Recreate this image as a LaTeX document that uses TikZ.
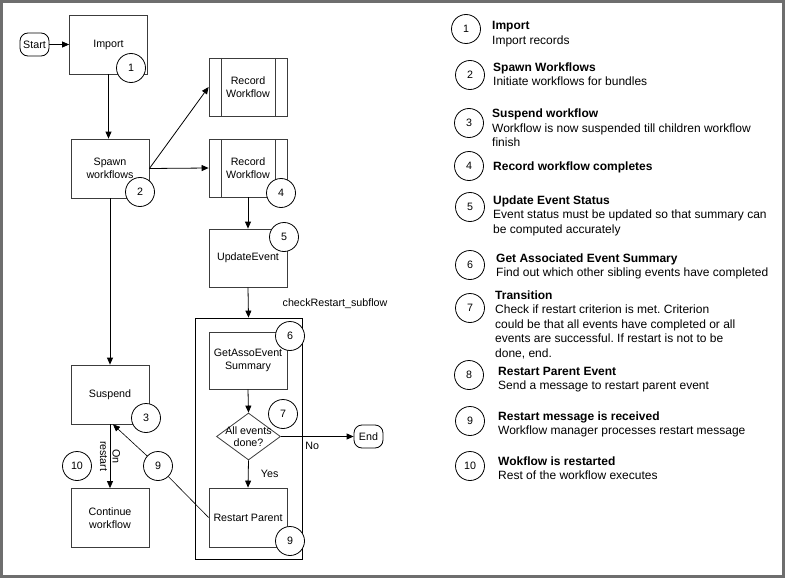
\documentclass[tikz,border=0pt]{standalone}
\usepackage{fontspec}
\setmainfont{Liberation Sans}
\usetikzlibrary{arrows.meta, shapes.geometric}
\usetikzlibrary{positioning}
\usepackage{xcolor}
\definecolor{framegray}{RGB}{110,110,110}
\definecolor{boxgray}{RGB}{60,60,60}
\newcommand{\boxfont}{\fontsize{10.7}{12.5}\selectfont}
\newcommand{\legfont}{\fontsize{12}{14.5}\selectfont\frenchspacing}

\begin{document}
\begin{tikzpicture}[x=1pt, y=-1pt, font=\boxfont,
		flow/.style={-{Triangle[length=7pt, width=6pt]}, line width=0.8pt},
		link/.style={line width=0.6pt},
		stepbox/.style={draw=boxgray, fill=white, line width=0.8pt, minimum width=78pt, minimum height=59pt, align=center, inner sep=1pt},
		subproc/.style={stepbox, path picture={
				\draw[boxgray, line width=0.8pt] ([xshift=12pt]path picture bounding box.north west) -- ([xshift=12pt]path picture bounding box.south west);
				\draw[boxgray, line width=0.8pt] ([xshift=-12pt]path picture bounding box.north east) -- ([xshift=-12pt]path picture bounding box.south east);}},
		terminal/.style={rectangle, rounded corners=8pt, draw, fill=white, line width=0.8pt, minimum width=29pt, minimum height=23pt, inner xsep=1pt, inner ysep=1pt},
		numcirc/.style={circle, draw, fill=white, line width=0.8pt, minimum size=29pt, inner sep=0pt},
		legtext/.style={anchor=base west, align=left, font=\legfont, inner sep=0pt}]
		\useasboundingbox (0,0) rectangle (785,578);
		\draw[framegray, line width=2.7pt] (1.3,1.3) rectangle (783.6,576.6);
		
		% main flow
		\begin{scope}
			\node[terminal] (start) at (34.5,44.5) {Start};
			\node[stepbox] (import) at (108.5,44.5) {Import};
			\node[numcirc] (c1) at (131,68) {1};
			\node[stepbox] (spawn) at (110,168.5) {Spawn\\workflows};
			\node[numcirc] (c2) at (140,192) {2};
			\node[subproc, minimum height=58pt] (rwa) at (248,87) {Record\\Workflow};
			\node[subproc, minimum height=58pt] (rwb) at (248,168) {Record\\Workflow};
			\node[numcirc] (c4) at (281,193) {4};
			\node[stepbox, minimum height=58pt] (update) at (248,258) {UpdateEvent};
			\node[numcirc] (c5) at (284,237) {5};
			\node[stepbox] (suspend) at (110,394.5) {Suspend};
			\node[numcirc] (c3) at (146,418) {3};
			\node[stepbox] (cont) at (110,518) {Continue\\workflow};
			\node[numcirc] (c10) at (77,466) {10};
			\node[numcirc] (c9a) at (158,466) {9};
			\coordinate (susphit) at ([xshift=3pt]suspend.south);
			
			\draw[flow] (start) -- (import);
			\draw[flow] (import.south) -- (import.south |- spawn.north);
			\draw[flow] (spawn.east) -- (rwa.west);
			\draw[flow] (spawn.east) -- (rwb.west);
			\draw[flow] (rwb.south) -- (update.north);
			\draw[flow] (spawn.south) -- (suspend.north);
			\draw[flow] (suspend.south) -- node[rotate=-90, align=center, inner sep=0pt] (onrst) {On\\restart} (cont.north);
			\draw[flow, link] (c9a) -- (susphit);
		\end{scope}
		
		% sub flow
		\begin{scope}
			\node[draw, line width=0.8pt, minimum width=107pt, minimum height=241pt] (sub) at (248.5,438.5) {};
			\node (sublbl) at (335,304) {checkRestart\_subflow};
			\node[stepbox, minimum height=57pt] (getasso) at (248,360.5) {GetAssoEvent\\Summary};
			\node[numcirc] (c6) at (290,336) {6};
			\node[diamond, draw=boxgray, fill=white, line width=0.8pt, minimum width=64pt, minimum height=47pt, inner sep=0pt,
			label={[align=center]center:All events\\done?}] (dec) at (248.5,436.5) {};
			\node[numcirc] (c7) at (283,414) {7};
			\node[terminal] (finish) at (368.5,436.5) {End};
			\node[stepbox] (restart) at (248,517.5) {Restart Parent};
			\node[numcirc] (c9b) at (290,541) {9};
			
			\draw[flow] (update.south) -- (sub.north);
			\draw[flow] (getasso.south) -- (dec.north);
			\draw[flow] (dec.east) -- node[pos=0.43, below=2pt] (nolbl) {No} (finish.west);
			\draw[flow] (dec.south) -- node[pos=0.5, right=9pt] (yeslbl) {Yes} (restart.north);
			\draw[link] (c9a) -- (restart.west);
		\end{scope}
		
		% legend (node base = last line)
		\begin{scope}
			\node[numcirc] (l1) at (466,29) {1};
			\node[legtext] (t1) at (492,44.5) {\textbf{Import}\\Import records};
			\node[numcirc] (l2) at (470,75) {2};
			\node[legtext] (t2) at (493,86) {\textbf{Spawn Workflows}\\Initiate workflows for bundles};
			\node[numcirc] (l3) at (469,123) {3};
			\node[legtext] (t3) at (492,146.5) {\textbf{Suspend workflow}\\Workflow is now suspended till children workflow\\finish};
			\node[numcirc] (l4) at (469,166) {4};
			\node[legtext] (t4) at (493,170) {\textbf{Record workflow completes}};
			\node[numcirc] (l5) at (470,207) {5};
			\node[legtext] (t5) at (493,233) {\textbf{Update Event Status}\\Event status must be updated so that summary can\\be computed accurately};
			\node[numcirc] (l6) at (470,265) {6};
			\node[legtext] (t6) at (496,276.5) {\textbf{Get Associated Event Summary}\\Find out which other sibling events have completed};
			\node[numcirc] (l7) at (470,308) {7};
			\node[legtext] (t7) at (495,357) {\textbf{Transition}\\Check if restart criterion is met. Criterion\\could be that all events have completed or all\\events are successful. If restart is not to be\\done, end.};
			\node[numcirc] (l8) at (469,375) {8};
			\node[legtext] (t8) at (498,389.5) {\textbf{Restart Parent Event}\\Send a message to restart parent event};
			\node[numcirc] (l9) at (470,421) {9};
			\node[legtext] (t9) at (498,434.5) {\textbf{Restart message is received}\\Workflow manager processes restart message};
			\node[numcirc] (l10) at (470,466) {10};
			\node[legtext] (t10) at (498,479.5) {\textbf{Wokflow is restarted}\\Rest of the workflow executes};
		\end{scope}
	\end{tikzpicture}
\end{document}
